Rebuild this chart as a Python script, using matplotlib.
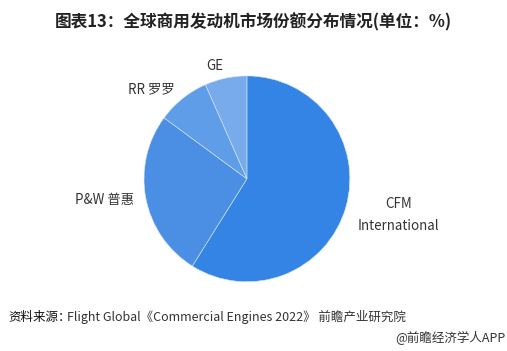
import matplotlib
matplotlib.use("Agg")
from matplotlib import pyplot as plt

plt.rcParams['font.family'] = ['Noto Sans CJK SC', 'DejaVu Sans']

# market share (%)
labels = ["CFM\nInternational", "P&W 普惠", "RR 罗罗", "GE"]
shares = [58.9, 26.2, 8.3, 6.6]
colors = ["#3384e5", "#4a8fe3", "#5f9de8", "#78abec"]

fig = plt.figure(figsize=(5.07, 3.51), dpi=100)
ax = fig.add_axes([0.284, 0.197, 0.406, 0.587])

wedges, texts = ax.pie(shares, labels=labels, colors=colors, startangle=90,
                       counterclock=False, labeldistance=1.12,
                       wedgeprops=dict(edgecolor="#dbe8f8", linewidth=0.4),
                       textprops=dict(color="#333333", fontsize=9.6))
# two-line CFM label sits a bit lower and is centred
texts[0].set_multialignment("center")
texts[0].set_linespacing(1.75)
x, y = texts[0].get_position()
texts[0].set_position((x, y - 0.04))
ax.set_xlim(-1, 1)
ax.set_ylim(-1, 1)
ax.set_aspect("equal")

# title and notes
fig.text(0.5, 1 - 22/351, "图表13：全球商用发动机市场份额分布情况(单位：%)",
         ha="center", va="center", fontsize=12, fontweight="bold", color="#222222")
fig.text(8/507, 1 - 317/351, "资料来源：", ha="left", va="center", fontsize=9, color="#111111")
fig.text(67/507, 1 - 317/351, "Flight Global《Commercial Engines 2022》 前瞻产业研究院",
         ha="left", va="center", fontsize=9, color="#333333")
fig.text(505/507, 1 - 338/351, "@前瞻经济学人APP", ha="right", va="center",
         fontsize=9, color="#333333")

fig.savefig("out.png", dpi=100)
